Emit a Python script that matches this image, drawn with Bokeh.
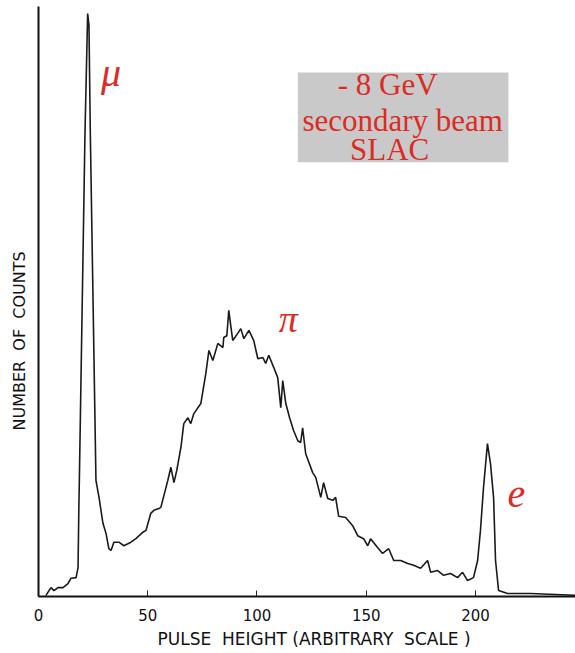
from bokeh.plotting import figure
from bokeh.models import Range1d, FixedTicker, BoxAnnotation, Label, Title
from bokeh.embed import file_html
from bokeh.resources import INLINE

# Pulse-height spectrum of a mixed secondary beam (mu, pi, e)
pulse_height = [3.4, 5.7, 7.1, 8.9, 11.2, 13.5, 14.9, 17.2, 18.1, 18.5, 18.7,
                21.3, 22.5, 23.1, 23.7, 26.3, 27.7, 29.5, 30.9, 32.2, 33.2,
                34.5, 36.8, 39.1, 42.3, 44.6, 47.8, 49.2, 51.4, 52.8, 55.1,
                56.0, 57.4, 59.2, 60.6, 62.0, 63.3, 65.2, 66.5, 68.4, 69.7,
                71.1, 74.3, 76.6, 78.0, 79.8, 82.1, 84.4, 84.8, 86.2, 87.1,
                88.0, 88.9, 91.2, 92.6, 94.0, 96.3, 98.5, 100.4, 102.7, 104.0,
                105.4, 107.7, 109.5, 110.9, 111.8, 113.2, 115.0, 116.8, 118.7,
                120.0, 120.9, 122.3, 125.5, 126.9, 129.2, 130.5, 132.4, 134.7,
                136.0, 137.4, 140.6, 143.8, 146.1, 148.8, 150.7, 152.0, 155.2,
                157.5, 160.3, 162.6, 165.8, 169.0, 171.7, 174.9, 178.1, 179.5,
                182.7, 185.4, 188.6, 191.8, 194.1, 196.4, 199.1, 201.0, 202.3,
                203.7, 205.5, 206.9, 208.3, 209.2, 210.6, 214.7, 225.2, 245.8]
counts = [0.2, 1.5, 1.0, 1.5, 1.5, 2.2, 3.1, 3.2, 4.9, 15.8, 19.7,
          79.0, 98.8, 96.8, 79.0, 19.7, 16.8, 12.4, 10.7, 8.1, 7.8,
          9.2, 9.2, 8.6, 9.2, 9.8, 10.9, 11.2, 14.1, 14.6, 14.9,
          15.1, 17.1, 19.7, 21.9, 19.3, 21.4, 25.3, 29.3, 30.3, 29.3,
          31.0, 32.7, 37.8, 41.7, 40.0, 42.9, 42.2, 43.9, 44.2, 48.5,
          45.9, 43.4, 44.6, 45.4, 43.7, 45.1, 43.4, 40.3, 40.5, 39.5,
          40.9, 38.8, 37.1, 32.0, 36.6, 32.7, 30.2, 28.1, 26.4,
          26.1, 28.6, 24.2, 21.0, 20.2, 16.8, 19.3, 16.6, 16.3,
          16.8, 13.6, 13.4, 12.0, 10.3, 9.8, 8.6, 9.8, 8.3,
          7.3, 8.1, 6.1, 6.1, 5.6, 5.3, 4.8, 6.1, 4.1,
          4.4, 3.6, 3.9, 3.2, 4.1, 2.7, 3.2, 6.1, 11.2,
          18.5, 25.9, 22.5, 16.8, 6.1, 1.0, 0.5, 0.5, 0.2]

x_ticks = [0, 50, 100, 150, 200]

NB = "\u00a0"
x_title = f"PULSE{NB}{NB}HEIGHT{NB}(ARBITRARY{NB}{NB}SCALE{NB})"
y_title = f"NUMBER{NB}{NB}OF{NB}{NB}COUNTS"

p = figure(width=575, height=653, output_backend="svg", toolbar_location=None,
           x_range=Range1d(0, 245.8), y_range=Range1d(0, 100),
           min_border_left=37, min_border_right=0, min_border_top=6,
           min_border_bottom=57)
p.outline_line_color = None
p.xgrid.visible = False
p.ygrid.visible = False
p.background_fill_color = "white"
p.border_fill_color = "white"

ink = "#111111"
sans = "DejaVu Sans"

# bottom axis: inward ticks, lettering-style labels
xa = p.xaxis[0]
xa.ticker = FixedTicker(ticks=x_ticks)
xa.minor_tick_line_color = None
xa.major_tick_in = 6
xa.major_tick_out = 0
xa.major_tick_line_color = "#222222"
xa.major_tick_line_width = 1
xa.axis_line_color = ink
xa.axis_line_width = 2
xa.major_label_text_font = sans
xa.major_label_text_font_size = "15px"
xa.major_label_text_color = ink
xa.major_label_standoff = 12

# left axis: a bare line
ya = p.yaxis[0]
ya.ticker = FixedTicker(ticks=[])
ya.minor_tick_line_color = None
ya.major_tick_out = 0
ya.major_tick_in = 0
ya.major_label_standoff = 0
ya.axis_line_color = ink
ya.axis_line_width = 2

p.line(pulse_height, counts, line_color="#1a1a1a", line_width=1.6)

# axis titles, placed in the side panels
p.add_layout(Title(text=x_title, text_font=sans, text_font_size="17px",
                   text_font_style="normal", text_color=ink,
                   align="left", offset=119, standoff=8,
                   vertical_align="middle"), "below")
p.add_layout(Title(text=y_title, text_font=sans, text_font_size="16px",
                   text_font_style="normal", text_color=ink,
                   align="left", offset=166, standoff=17,
                   vertical_align="middle"), "left")

red = "#dc2b24"
serif = "Liberation Serif"

# beam description panel
p.add_layout(BoxAnnotation(left=118.7, right=215.1, bottom=73.6, top=88.8,
                           fill_color="#c9c9c9", fill_alpha=1.0,
                           line_color=None))
for txt, xc, yb in [("- 8 GeV", 159.8, 86.7),
                    ("secondary beam", 166.7, 80.7),
                    ("SLAC", 160.7, 75.8)]:
    p.add_layout(Label(x=xc, y=yb, text=txt, text_font=serif,
                       text_font_size="31px", text_color=red,
                       text_align="center", text_baseline="alphabetic"))

# particle tags
for txt, xl, yb, size in [("\u03bc", 28.6, 88.8, "40px"),
                          ("\u03c0", 110.0, 47.0, "38px"),
                          ("e", 214.7, 17.3, "40px")]:
    p.add_layout(Label(x=xl, y=yb, text=txt, text_font=serif,
                       text_font_size=size, text_font_style="italic",
                       text_color=red, text_align="left",
                       text_baseline="alphabetic"))

open("out.html", "w").write(file_html(p, INLINE))
